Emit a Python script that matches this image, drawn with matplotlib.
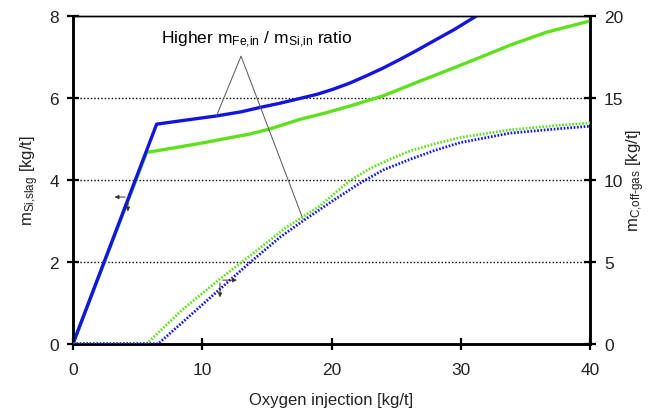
import matplotlib
matplotlib.use("Agg")
import matplotlib.pyplot as plt

plt.rcParams["font.family"] = ["Liberation Sans", "DejaVu Sans"]
plt.rcParams["mathtext.fontset"] = "custom"
plt.rcParams["mathtext.rm"] = "Liberation Sans"
plt.rcParams["mathtext.it"] = "Liberation Sans:italic"
plt.rcParams["mathtext.bf"] = "Liberation Sans:bold"

# Left axis: m_Si,slag [kg/t]
blue_solid_x = [0, 6.47, 9.0, 11.1, 13.0, 14.5, 16.0, 17.6, 18.9, 20.1, 21.4, 22.7, 24.0, 25.3, 26.6, 27.9, 29.5, 31.0, 32.0]
blue_solid_y = [0, 5.36, 5.47, 5.56, 5.66, 5.77, 5.87, 5.99, 6.09, 6.21, 6.36, 6.54, 6.73, 6.94, 7.16, 7.39, 7.67, 7.96, 8.16]
green_solid_x = [0, 5.7, 8.0, 10.0, 12.0, 13.7, 15.2, 17.6, 19.5, 21.4, 24.0, 26.6, 29.2, 31.5, 34.0, 36.6, 40]
green_solid_y = [0, 4.67, 4.79, 4.90, 5.02, 5.12, 5.24, 5.48, 5.63, 5.80, 6.05, 6.38, 6.70, 6.99, 7.31, 7.60, 7.88]

# Right axis: m_C,off-gas [kg/t]
blue_dot_x = [0, 6.6, 9.05, 11.37, 13.7, 16.0, 17.8, 20.1, 22.2, 24.0, 26.1, 28.0, 30.0, 33.8, 37.7, 40]
blue_dot_y = [0, 0, 1.71, 3.34, 4.96, 6.49, 7.5, 8.72, 9.80, 10.6, 11.26, 11.8, 12.28, 12.85, 13.13, 13.27]
green_dot_x = [0, 5.7, 8.53, 11.37, 13.7, 16.5, 19.1, 21.4, 23.0, 24.5, 26.1, 28.0, 30.0, 33.8, 37.7, 40]
green_dot_y = [0, 0, 2.12, 3.95, 5.37, 7.1, 8.41, 9.94, 10.7, 11.25, 11.77, 12.2, 12.59, 13.05, 13.34, 13.47]

x_ticks = [0, 10, 20, 30, 40]
left_ticks = [0, 2, 4, 6, 8]
right_ticks = [0, 5, 10, 15, 20]
grid_levels = [2, 4, 6]

BLUE = "#1414e0"
GREEN = "#5ee01c"
TXT = "#222222"

fig = plt.figure(figsize=(6.54, 4.14), dpi=100)
ax = fig.add_axes([73/654, 1-344.7/414, (590-73)/654, (344.7-17)/414])
ax2 = ax.twinx()

for g in grid_levels:
    ax.axhline(g, color="black", lw=1.0, ls=(0, (1, 1.5)), zorder=1)

ax.plot(green_solid_x, green_solid_y, color=GREEN, lw=2.4, zorder=3)
ax.plot(blue_solid_x, blue_solid_y, color=BLUE, lw=2.4, zorder=4)

ax2.plot(green_dot_x, green_dot_y, color=GREEN, lw=2.0, ls=(0, (0.6, 0.6)), zorder=3)
ax2.plot(blue_dot_x, blue_dot_y, color=BLUE, lw=2.0, ls=(0, (0.6, 0.6)), zorder=4)

ax.set_xlim(0, 40)
ax.set_ylim(0, 8)
ax2.set_ylim(0, 20)
ax.set_xticks(x_ticks)
ax.set_yticks(left_ticks)
ax2.set_yticks(right_ticks)

for a in (ax, ax2):
    for s in ("left", "right", "bottom"):
        a.spines[s].set_linewidth(1.8)
    a.spines["top"].set_linewidth(1.0)
    a.tick_params(direction="inout", length=8, width=1.6, labelsize=12.5, colors="black", labelcolor=TXT, pad=6)
ax.tick_params(axis="x", pad=9)

ax.set_xlabel("Oxygen injection [kg/t]", fontsize=12, color=TXT, labelpad=11)
ax.set_ylabel(r"m$_{\mathrm{Si{,}slag}}$ [kg/t]", fontsize=12, color=TXT, labelpad=6)
ax2.set_ylabel(r"m$_{\mathrm{C{,}off\text{-}gas}}$ [kg/t]", fontsize=12, color=TXT, labelpad=1)

# annotation text and leader lines
ax.text(14.2, 7.43, r"Higher m$_{\mathrm{Fe{,}in}}$ / m$_{\mathrm{Si{,}in}}$ ratio", fontsize=12.5,
        ha="center", va="center", color="black")
ax.plot([11.1, 13.0, 17.8], [5.56, 7.02, 3.04], color="#555555", lw=0.7, zorder=5)

# axis indicator arrows
arr = dict(arrowstyle="-|>", color="#333333", lw=0.7, mutation_scale=6)
ax.annotate("", xy=(3.0, 3.58), xytext=(4.25, 3.58), arrowprops=arr, zorder=6)
ax.annotate("", xy=(4.25, 3.16), xytext=(4.25, 3.58), arrowprops=arr, zorder=6)
ax2.annotate("", xy=(12.9, 3.88), xytext=(11.37, 3.88), arrowprops=arr, zorder=6)
ax2.annotate("", xy=(11.37, 2.66), xytext=(11.37, 3.88), arrowprops=arr, zorder=6)

fig.savefig("out.png", dpi=100)
